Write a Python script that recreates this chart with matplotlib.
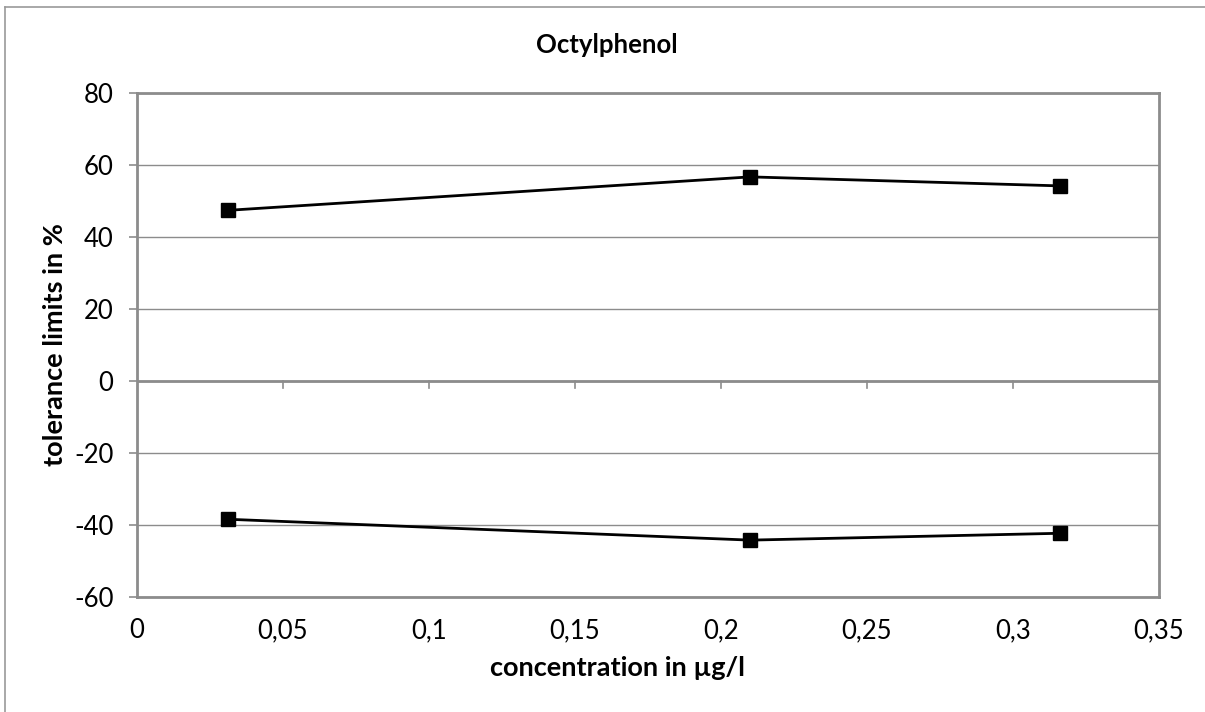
import matplotlib.pyplot as plt
from matplotlib.ticker import FuncFormatter, MultipleLocator
from matplotlib.lines import Line2D

plt.rcParams['font.family'] = ['Lato', 'DejaVu Sans']

concentration = [0.031, 0.21, 0.316]
upper_limit = [47.4, 56.7, 54.2]
lower_limit = [-38.4, -44.2, -42.3]

title = 'Octylphenol'
x_label = 'concentration in µg/l'
y_label = 'tolerance limits in %'

W, H = 1205, 712
fig = plt.figure(figsize=(W / 100, H / 100), dpi=100)
ax = fig.add_axes([137 / W, 1 - 597 / H, (1159 - 137) / W, (597 - 93) / H])

grid_color = '#8c8c8c'

ax.plot(concentration, upper_limit, color='black', lw=2, marker='s', ms=10, zorder=3)
ax.plot(concentration, lower_limit, color='black', lw=2, marker='s', ms=10, zorder=3)

ax.set_xlim(0, 0.35)
ax.set_ylim(-60, 80)
ax.xaxis.set_major_locator(MultipleLocator(0.05))
ax.yaxis.set_major_locator(MultipleLocator(20))
ax.xaxis.set_major_formatter(FuncFormatter(lambda v, p: ('%g' % round(v, 2)).replace('.', ',')))
ax.yaxis.set_major_formatter(FuncFormatter(lambda v, p: '%d' % v))

ax.grid(axis='y', color=grid_color, lw=1)
ax.set_axisbelow(True)
for s in ax.spines.values():
    s.set_color(grid_color)
    s.set_linewidth(2)

# x axis crosses at y = 0, ticks hang below it
ax.axhline(0, color=grid_color, lw=2, zorder=2)
ax.tick_params(axis='x', length=0, pad=15, labelsize=18.5)
ax.tick_params(axis='y', length=6, width=1.2, color=grid_color, pad=11, labelsize=18.5)
for xv in ax.get_xticks():
    if 0 < xv < 0.35:
        ax.plot([xv, xv], [0, -2], color=grid_color, lw=1.2, zorder=2, clip_on=False)

fig.text(607 / W, 1 - 45 / H, title, fontsize=18.5, fontweight='bold', ha='center', va='center')
fig.text(617 / W, 1 - 668 / H, x_label, fontsize=19.5, fontweight='bold', ha='center', va='center')
fig.text(55 / W, 1 - 345 / H, y_label, fontsize=19.5, fontweight='bold', ha='center', va='center',
         rotation=90)

# chart area border
fig.add_artist(Line2D([5 / W, 5 / W], [0, 1 - 7 / H], transform=fig.transFigure, color='#9a9a9a', lw=1.2))
fig.add_artist(Line2D([5 / W, 1], [1 - 7 / H, 1 - 7 / H], transform=fig.transFigure, color='#9a9a9a', lw=1.2))

fig.savefig('out.png', dpi=100)
